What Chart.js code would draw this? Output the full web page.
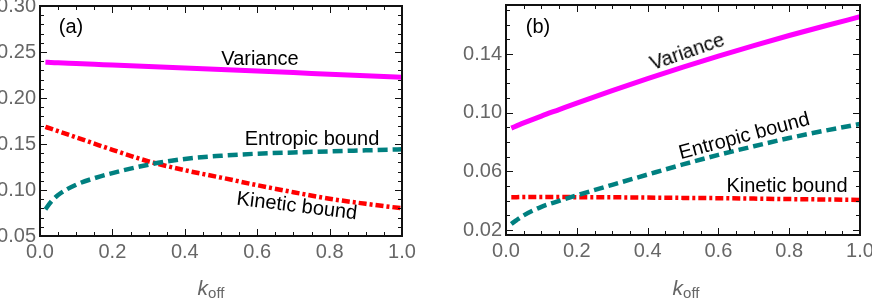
<!DOCTYPE html>
<html><head><meta charset="utf-8">
<script src="https://cdn.jsdelivr.net/npm/chart.js@4"></script>
<style>
html,body{margin:0;padding:0;background:#fff;}
#wrap{position:relative;width:872px;height:300px;overflow:hidden;font-family:"Liberation Sans",Arial,sans-serif;}
canvas{position:absolute;top:0;}
.lbl{position:absolute;white-space:nowrap;font-size:20px;color:#000;line-height:1;transform-origin:center center;}
.xt{position:absolute;font-size:21px;color:#666;line-height:24px;white-space:nowrap;transform:translateX(-50%);}
.xt sub{font-size:15px;vertical-align:-3px;line-height:0;font-style:normal;}
</style></head>
<body><div id="wrap">
<canvas id="ca" width="436" height="300" style="left:0"></canvas>
<canvas id="cb" width="436" height="300" style="left:436px"></canvas>
<div class="lbl" style="left:71px;top:26px;transform:translate(-50%,-50%);">(a)</div>
<div class="lbl" style="left:260px;top:58px;transform:translate(-50%,-50%);">Variance</div>
<div class="lbl" style="left:312px;top:138px;transform:translate(-50%,-50%);">Entropic bound</div>
<div class="lbl" style="left:297px;top:205px;transform:translate(-50%,-50%) rotate(7deg);">Kinetic bound</div>
<div class="xt" style="left:211px;top:276px;"><i>k</i><sub>off</sub></div>
<div class="lbl" style="left:538px;top:26px;transform:translate(-50%,-50%);">(b)</div>
<div class="lbl" style="left:687px;top:51px;transform:translate(-50%,-50%) rotate(-19deg);">Variance</div>
<div class="lbl" style="left:744px;top:135px;transform:translate(-50%,-50%) rotate(-15deg);">Entropic bound</div>
<div class="lbl" style="left:787px;top:185px;transform:translate(-50%,-50%);">Kinetic bound</div>
<div class="xt" style="left:686px;top:276px;"><i>k</i><sub>off</sub></div>
</div>
<script>
// ---- data ----
const kOff = [0.015, 0.03, 0.05, 0.1, 0.15, 0.2, 0.3, 0.4, 0.5, 0.6, 0.7, 0.8, 0.9, 1.0];

const varianceA = [0.2388, 0.2386, 0.2382, 0.2375, 0.2367, 0.2358, 0.2342, 0.2326, 0.2310, 0.2293, 0.2276, 0.2259, 0.2242, 0.2225];
const entropicA = [0.0790, 0.0870, 0.0946, 0.1058, 0.1128, 0.1184, 0.1275, 0.1338, 0.1372, 0.1395, 0.1408, 0.1420, 0.1431, 0.1442];
const kineticA  = [0.1686, 0.1666, 0.1639, 0.1572, 0.1504, 0.1437, 0.1311, 0.1215, 0.1135, 0.1052, 0.0976, 0.0905, 0.0850, 0.0801];

const varianceB = [0.0895, 0.0910, 0.0930, 0.0977, 0.1021, 0.1065, 0.1150, 0.1232, 0.1310, 0.1385, 0.1457, 0.1526, 0.1591, 0.1654];
const entropicB = [0.0241, 0.0268, 0.0300, 0.0358, 0.0398, 0.0436, 0.0508, 0.0578, 0.0647, 0.0712, 0.0771, 0.0827, 0.0877, 0.0923];
const kineticB  = [0.0424, 0.0424, 0.0425, 0.0425, 0.0425, 0.0424, 0.0423, 0.0421, 0.0419, 0.0417, 0.0414, 0.0411, 0.0408, 0.0405];

const xTicks  = [0, 0.2, 0.4, 0.6, 0.8, 1.0];
const yTicksA = [0.05, 0.10, 0.15, 0.20, 0.25, 0.30];
const yTicksB = [0.02, 0.06, 0.10, 0.14];

// ---- helpers ----
const FONT = '"Liberation Sans", Arial, sans-serif';
function pts(xs, ys){ return xs.map((x,i)=>({x:x, y:ys[i]})); }
function range(a, b, step){ const out=[]; const n=Math.round((b-a)/step); for(let i=0;i<=n;i++) out.push(+(a+i*step).toFixed(6)); return out; }

const frameTicks = {
  id:'frameTicks',
  afterDatasetsDraw(chart, args, opts){
    const {ctx, chartArea:{left,right,top,bottom}, scales:{x,y}} = chart;
    ctx.save();
    ctx.strokeStyle = '#111';
    ctx.lineWidth = 1;
    const xt = (vals,len)=>vals.forEach(v=>{
      const p = Math.round(x.getPixelForValue(v))+0.5;
      ctx.beginPath(); ctx.moveTo(p,bottom); ctx.lineTo(p,bottom-len);
      ctx.moveTo(p,top); ctx.lineTo(p,top+len); ctx.stroke();
    });
    const yt = (vals,len)=>vals.forEach(v=>{
      const p = Math.round(y.getPixelForValue(v))+0.5;
      ctx.beginPath(); ctx.moveTo(left,p); ctx.lineTo(left+len,p);
      ctx.moveTo(right,p); ctx.lineTo(right-len,p); ctx.stroke();
    });
    xt(opts.xMinor,4); xt(opts.xMajor,7);
    yt(opts.yMinor,4); yt(opts.yMajor,7);
    ctx.lineWidth = 2;
    ctx.strokeRect(left,top,right-left,bottom-top);
    ctx.restore();
  }
};

function makeChart(id, c){
  return new Chart(document.getElementById(id), {
    type:'line',
    data:{datasets:[
      {data:pts(kOff,c.variance), borderColor:'#ff00ff', borderWidth:5, pointRadius:0, cubicInterpolationMode:'monotone'},
      {data:pts(kOff,c.entropic), borderColor:'#008080', borderWidth:4.5, borderDash:[10,5], pointRadius:0, cubicInterpolationMode:'monotone'},
      {data:pts(kOff,c.kinetic),  borderColor:'#ff0000', borderWidth:4.5, borderDash:[8,3,3,3], pointRadius:0, cubicInterpolationMode:'monotone'}
    ]},
    options:{
      responsive:false, animation:false,
      layout:{padding:{left:0,right:c.padRight,top:c.padTop,bottom:0}},
      plugins:{legend:{display:false}, tooltip:{enabled:false},
        frameTicks:{xMajor:xTicks, xMinor:range(0,1,0.05), yMajor:c.yTicks, yMinor:c.yMinor}},
      scales:{
        x:{type:'linear', min:0, max:1,
          grid:{display:false, drawTicks:false}, border:{display:false},
          afterBuildTicks:s=>{ s.ticks = xTicks.map(v=>({value:v})); },
          ticks:{padding:4, color:'#666', font:{family:FONT,size:20}, autoSkip:false, maxRotation:0,
                 callback:v=>Number(v).toFixed(1)},
          afterFit:s=>{ s.height=c.xHeight; s.paddingLeft=0; s.paddingRight=0; }},
        y:{type:'linear', min:c.yMin, max:c.yMax,
          grid:{display:false, drawTicks:false}, border:{display:false},
          afterBuildTicks:s=>{ s.ticks = c.yTicks.map(v=>({value:v})); },
          ticks:{padding:4, color:'#666', font:{family:FONT,size:20}, autoSkip:false,
                 callback:v=>Number(v).toFixed(2)},
          afterFit:s=>{ s.width=c.yWidth; s.paddingTop=0; s.paddingBottom=0; }}
      }
    },
    plugins:[frameTicks]
  });
}

makeChart('ca', {variance:varianceA, entropic:entropicA, kinetic:kineticA,
  yMin:0.05, yMax:0.30, yTicks:yTicksA, yMinor:range(0.05,0.30,0.01),
  yWidth:40, padRight:34, padTop:6, xHeight:64});
makeChart('cb', {variance:varianceB, entropic:entropicB, kinetic:kineticB,
  yMin:0.0166, yMax:0.1734, yTicks:yTicksB, yMinor:range(0.02,0.17,0.01),
  yWidth:70, padRight:12, padTop:5, xHeight:65});
</script>
</body></html>
